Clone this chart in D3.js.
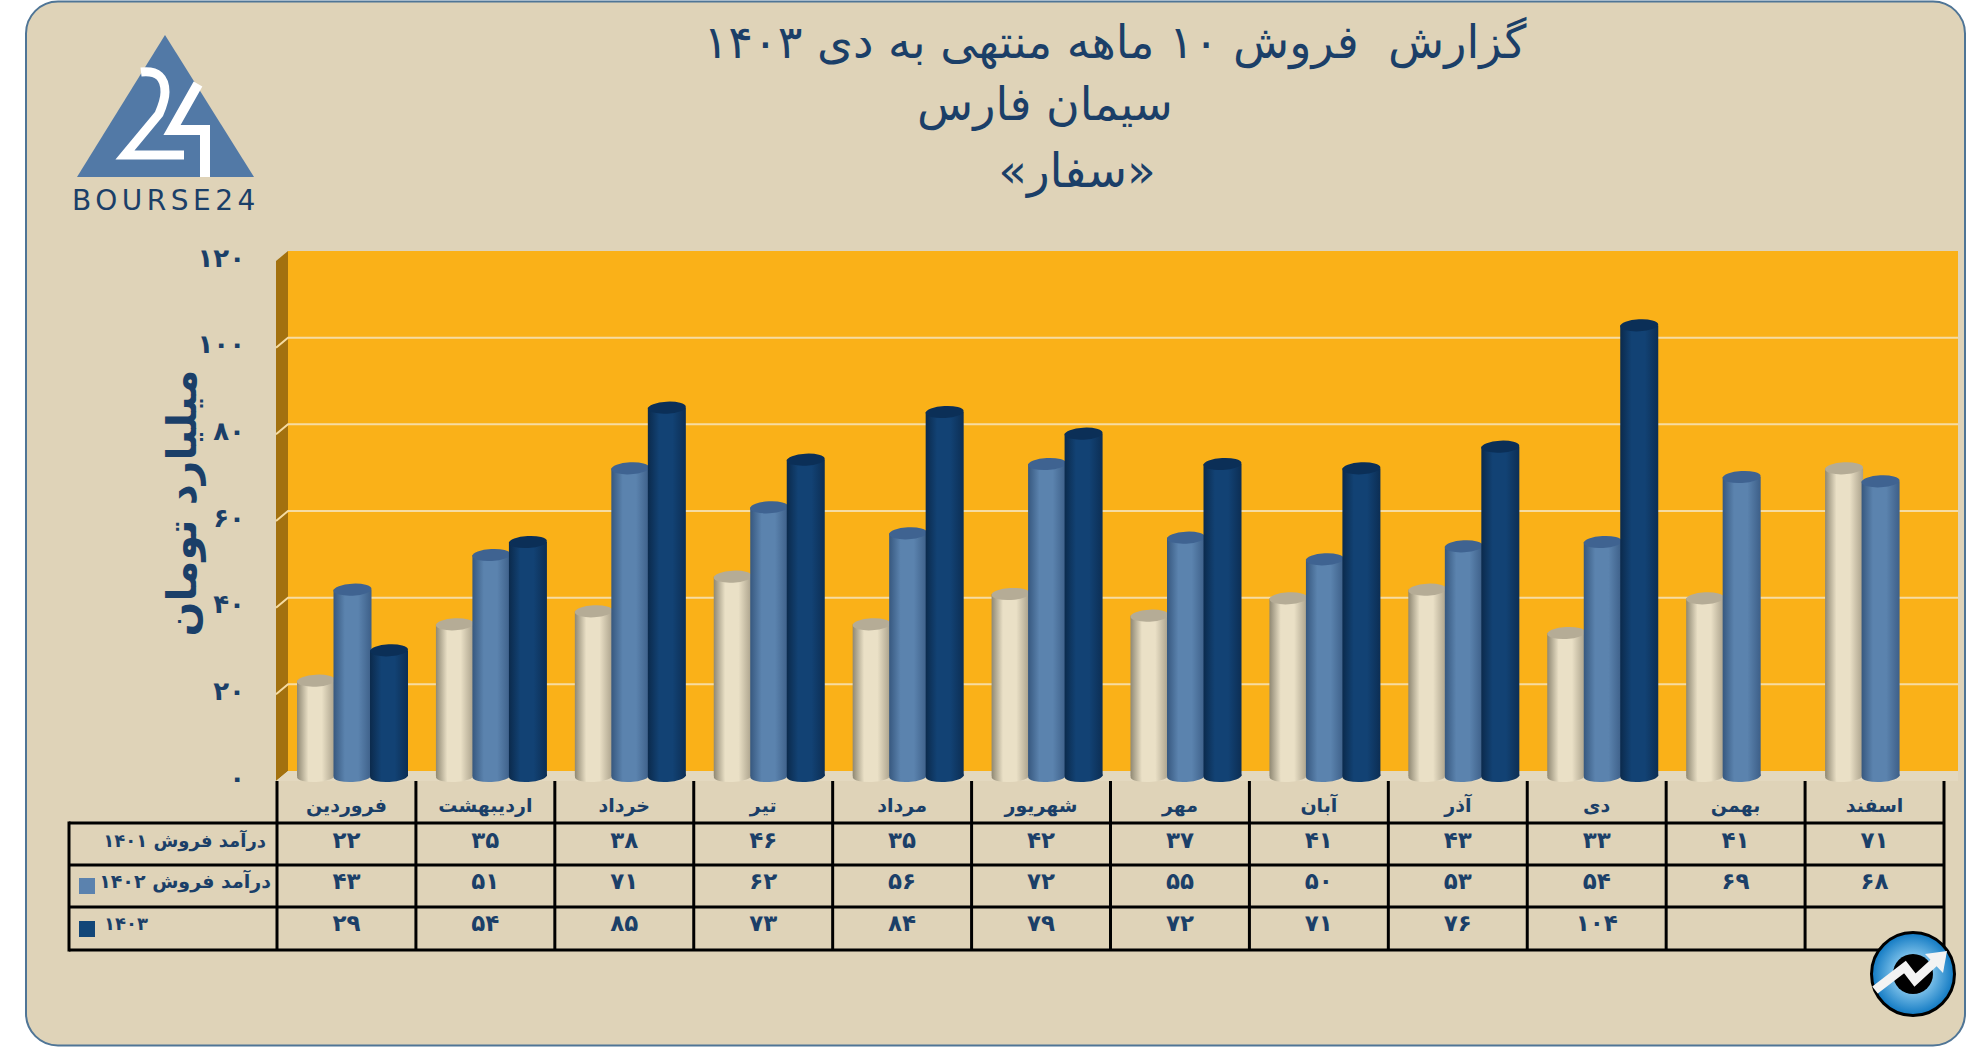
<!DOCTYPE html>
<html lang="fa">
<head>
<meta charset="utf-8">
<script src="https://cdn.jsdelivr.net/npm/d3@7"></script>
<style>
  html, body { margin: 0; background: #fff; }
  text { font-family: "DejaVu Sans", sans-serif; fill: #1b3f68; }
</style>
</head>
<body>
<div id="viz"></div>
<script>
/* global d3 */

// data
var months = ["فروردین", "اردیبهشت", "خرداد", "تیر", "مرداد", "شهریور", "مهر", "آبان", "آذر", "دی", "بهمن", "اسفند"]
var sales1401 = [22, 35, 38, 46, 35, 42, 37, 41, 43, 33, 41, 71]
var sales1402 = [43, 51, 71, 62, 56, 72, 55, 50, 53, 54, 69, 68]
var sales1403 = [29, 54, 85, 73, 84, 79, 72, 71, 76, 104, null, null]
var rowLabels = ["درآمد فروش ۱۴۰۱", "درآمد فروش ۱۴۰۲", "۱۴۰۳"]
var yTicks = [0, 20, 40, 60, 80, 100, 120]
var titleLines = ["گزارش  فروش ۱۰ ماهه منتهی به دی ۱۴۰۳", "سیمان فارس", "«سفار»"]
var yTitle = "میلیارد تومان"

// general variables
var w = 1986
var h = 1047
var rows = [sales1401, sales1402, sales1403]
var colors = [
  { id: "cream", edge: "#8f8873", mid: "#eae0c6", right: "#a9a08a", top: "#b5ac96", swatch: null },
  { id: "blue", edge: "#37587f", mid: "#5b83ae", right: "#3d5f88", top: "#3f6391", swatch: "#5b82ae" },
  { id: "navy", edge: "#0b2a4c", mid: "#124274", right: "#0c2e54", top: "#0b2f57", swatch: "#124678" }
]

var fa = n => String(n).replace(/\d/g, c => "۰۱۲۳۴۵۶۷۸۹"[c])

var svg = d3.select("#viz")
  .append("svg")
  .attr("width", w)
  .attr("height", h)
  .style("display", "block")

var defs = svg.append("defs")
colors.forEach(c => {
  var g = defs.append("linearGradient").attr("id", "cyl-" + c.id)
  g.append("stop").attr("offset", "0%").attr("stop-color", c.edge)
  g.append("stop").attr("offset", "30%").attr("stop-color", c.mid)
  g.append("stop").attr("offset", "65%").attr("stop-color", c.mid)
  g.append("stop").attr("offset", "100%").attr("stop-color", c.right)
})
var badge = defs.append("radialGradient").attr("id", "badge")
badge.append("stop").attr("offset", "35%").attr("stop-color", "#8fcdf0")
badge.append("stop").attr("offset", "100%").attr("stop-color", "#0f78c2")

// panel
svg.append("rect")
  .attr("x", 26).attr("y", 1.5)
  .attr("width", 1939).attr("height", 1044)
  .attr("rx", 32)
  .attr("fill", "#dfd3b8")
  .attr("stroke", "#4f7596")
  .attr("stroke-width", 2)

// scales: the wall sits a little behind the bars, so gridlines get their own y scale
var x = d3.scaleBand().domain(d3.range(months.length)).range([277, 1944])
var xSeries = d3.scaleBand().domain([0, 1, 2]).range([20, 129.5])
var y = d3.scaleLinear().domain([0, 120]).range([776, 256])
var yWall = d3.scaleLinear().domain([0, 120]).range([771, 251])

// wall, floor and side
var wallLeft = 288
var wallRight = 1958
var depth = 12
svg.append("path")
  .attr("d", `M${wallLeft - depth},${yWall(120) + 10}L${wallLeft},${yWall(120)}L${wallLeft},${yWall(0)}L${wallLeft - depth},${yWall(0) + 10}Z`)
  .attr("fill", "#a3710f")
svg.append("rect")
  .attr("x", wallLeft).attr("y", yWall(120))
  .attr("width", wallRight - wallLeft).attr("height", yWall(0) - yWall(120))
  .attr("fill", "#fab118")
svg.append("path")
  .attr("d", `M${wallLeft},${yWall(0)}L${wallRight},${yWall(0)}L${wallRight},${yWall(0) + 10}L${wallLeft - depth},${yWall(0) + 10}Z`)
  .attr("fill", "#e3d8bf")

var grid = svg.append("g").attr("fill", "none").attr("stroke", "#f6dca2").attr("stroke-width", 2)
grid.selectAll("path").data(yTicks.slice(1, 6))
  .enter()
  .append("path")
  .attr("d", d => `M${wallLeft - depth},${yWall(d) + 10}L${wallLeft},${yWall(d)}L${wallRight},${yWall(d)}`)

// y axis, labels only
var yAxis = d3.axisLeft(y).tickValues(yTicks).tickFormat(fa).tickSize(0).tickPadding(0)
var axisG = svg.append("g").attr("transform", "translate(245,2)").call(yAxis)
axisG.select(".domain").remove()
axisG.selectAll("text").style("font-size", "26px").style("font-weight", "bold")

svg.append("text")
  .attr("transform", "translate(182,503) rotate(-90)")
  .attr("text-anchor", "middle")
  .attr("dominant-baseline", "central")
  .attr("direction", "rtl")
  .style("font-size", "41px")
  .style("font-weight", "bold")
  .text(yTitle)

// cylinders
var barW = 38
var ry = 6
rows.forEach((values, s) => {
  var c = colors[s]
  var g = svg.append("g")
  var data = values.map((v, i) => ({ v: v, i: i })).filter(d => d.v !== null)
  var cx = d => x(d.i) + xSeries(s) + barW / 2

  g.selectAll(".base").data(data)
    .enter()
    .append("ellipse")
    .attr("cx", cx).attr("cy", y(0))
    .attr("rx", barW / 2).attr("ry", ry)
    .attr("transform", d => `rotate(-3 ${cx(d)} ${y(0)})`)
    .attr("fill", `url(#cyl-${c.id})`)
  g.selectAll(".body").data(data)
    .enter()
    .append("rect")
    .attr("x", d => cx(d) - barW / 2).attr("y", d => y(d.v))
    .attr("width", barW).attr("height", d => y(0) - y(d.v))
    .attr("fill", `url(#cyl-${c.id})`)
  g.selectAll(".top").data(data)
    .enter()
    .append("ellipse")
    .attr("cx", cx).attr("cy", d => y(d.v))
    .attr("rx", barW / 2).attr("ry", ry)
    .attr("transform", d => `rotate(-3 ${cx(d)} ${y(d.v)})`)
    .attr("fill", c.top)
})

// table
var rowLines = [823, 865, 907, 950]
var rowText = [840, 881, 923]
var tableLeft = 69
var tableRight = 1944
var table = svg.append("g").attr("stroke", "#000").attr("stroke-width", 3)
table.selectAll(".h").data(rowLines)
  .enter()
  .append("line")
  .attr("x1", tableLeft).attr("x2", tableRight)
  .attr("y1", d => d).attr("y2", d => d)
table.selectAll(".v").data(d3.range(months.length + 1))
  .enter()
  .append("line")
  .attr("x1", d => d < months.length ? x(d) : tableRight)
  .attr("x2", d => d < months.length ? x(d) : tableRight)
  .attr("y1", 781).attr("y2", 951)
table.append("line")
  .attr("x1", tableLeft).attr("x2", tableLeft)
  .attr("y1", rowLines[0] - 1.5).attr("y2", rowLines[3] + 1.5)

svg.append("g").selectAll("text").data(months)
  .enter()
  .append("text")
  .attr("x", (d, i) => x(i) + x.bandwidth() / 2)
  .attr("y", 805)
  .attr("text-anchor", "middle")
  .attr("dominant-baseline", "central")
  .attr("direction", "rtl")
  .style("font-size", "19px")
  .style("font-weight", "bold")
  .text(d => d)

rows.forEach((values, s) => {
  svg.append("g").selectAll("text").data(values)
    .enter()
    .append("text")
    .attr("x", (d, i) => x(i) + x.bandwidth() / 2)
    .attr("y", rowText[s])
    .attr("text-anchor", "middle")
    .attr("dominant-baseline", "central")
    .style("font-size", "23px")
    .style("font-weight", "bold")
    .text(d => d === null ? "" : fa(d))
})

// with direction rtl the start anchor is the right edge of the text
svg.append("g").selectAll("text").data(rowLabels)
  .enter()
  .append("text")
  .attr("x", (d, i) => i == 2 ? 104 : i == 1 ? 271 : 266)
  .attr("y", (d, i) => rowText[i])
  .attr("text-anchor", "start")
  .attr("dominant-baseline", "central")
  .attr("direction", (d, i) => i == 2 ? "ltr" : "rtl")
  .style("font-size", (d, i) => i == 1 ? "19px" : "18px")
  .style("font-weight", "bold")
  .text(d => d)

// legend swatches, the 1401 row has none
svg.append("g").selectAll("rect").data(colors.filter(c => c.swatch))
  .enter()
  .append("rect")
  .attr("x", 79).attr("y", (d, i) => i == 0 ? 878 : 921)
  .attr("width", 16).attr("height", 16)
  .attr("fill", d => d.swatch)

// title
var titleX = [1115, 1045, 1077]
var titleY = [42, 104, 170]
var titleSize = [46, 46, 47]
svg.append("g").selectAll("text").data(titleLines)
  .enter()
  .append("text")
  .attr("x", (d, i) => titleX[i])
  .attr("y", (d, i) => titleY[i])
  .attr("text-anchor", "middle")
  .attr("dominant-baseline", "central")
  .attr("direction", "rtl")
  .style("font-size", (d, i) => titleSize[i] + "px")
  .style("white-space", "pre")
  .text(d => d)

// logo
var logo = svg.append("g")
logo.append("path").attr("d", "M165,35L254,177L77,177Z").attr("fill", "#5279a6")
logo.append("path")
  .attr("d", "M141,72C158,70 165,78 165,92C165,100 162,107 159,114L125,155L184,155")
  .attr("fill", "none").attr("stroke", "#fff").attr("stroke-width", 9)
logo.append("path")
  .attr("d", "M198,84L172,130L205,130L205,177")
  .attr("fill", "none").attr("stroke", "#fff").attr("stroke-width", 10)
logo.append("text")
  .attr("x", 166).attr("y", 200)
  .attr("text-anchor", "middle")
  .attr("dominant-baseline", "central")
  .style("font-size", "28px")
  .style("letter-spacing", "4.5px")
  .text("BOURSE24")

// corner badge
var bx = 1913
var by = 974
svg.append("circle").attr("cx", bx).attr("cy", by).attr("r", 41.5)
  .attr("fill", "url(#badge)").attr("stroke", "#000").attr("stroke-width", 3)
svg.append("circle").attr("cx", bx).attr("cy", by).attr("r", 20).attr("fill", "#000")
svg.append("path")
  .attr("d", `M${bx - 38},${by + 16}L${bx - 8},${by - 7}L${bx + 2},${by + 6}L${bx + 26},${by - 16}`)
  .attr("fill", "none").attr("stroke", "#f3f3f3").attr("stroke-width", 9)
svg.append("path")
  .attr("d", `M${bx + 12},${by - 20}L${bx + 34},${by - 23}L${bx + 30},${by - 1}Z`)
  .attr("fill", "#f3f3f3")
</script>
</body>
</html>
